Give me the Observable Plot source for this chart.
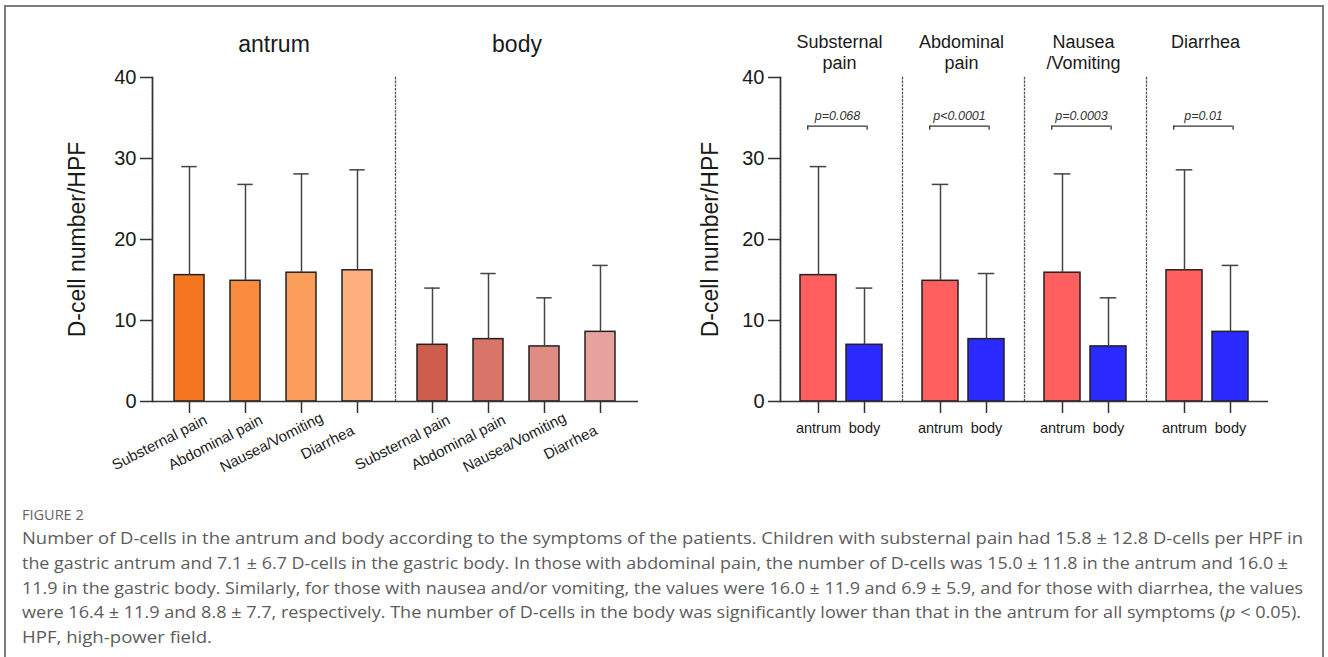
<!DOCTYPE html>
<html><head><meta charset="utf-8">
<script src="https://cdn.jsdelivr.net/npm/d3@7"></script>
<script src="https://cdn.jsdelivr.net/npm/@observablehq/plot@0.6"></script>
<style>
html,body{margin:0;padding:0;background:#fff;}
#wrap{position:relative;width:1328px;height:657px;overflow:hidden;background:#fff;}
#border{position:absolute;left:4px;top:5px;width:1320px;height:700px;border:2px solid #7d7d7d;box-sizing:border-box;}
#left{position:absolute;left:0;top:0;}
#right{position:absolute;left:660px;top:0;}
#caption{position:absolute;left:22px;top:503px;font-family:"Open Sans",sans-serif;color:#5c5c5c;}
#caption .fig{font-size:14.5px;line-height:23px;height:23px;color:#666;white-space:nowrap;}
#caption .ln{font-size:16px;line-height:24.8px;height:24.8px;white-space:nowrap;}
#caption .ln span, #caption .fig span{display:inline-block;transform-origin:0 50%;}
</style></head>
<body><div id="wrap"><div id="border"></div><div id="left"></div><div id="right"></div>
<div id="caption"></div></div>
<script>
// ---- data ----
const symptoms = ["Substernal pain", "Abdominal pain", "Nausea/Vomiting", "Diarrhea"];
const headerLabels = ["Substernal\npain", "Abdominal\npain", "Nausea\n/Vomiting", "Diarrhea"];
const sites = ["antrum", "body"];
const antrumMean = [15.6, 14.9, 15.9, 16.2];
const antrumSD   = [13.4, 11.9, 12.2, 12.4];
const bodyMean   = [7.0, 7.7, 6.8, 8.6];
const bodySD     = [7.0, 8.1, 6.0, 8.2];
const pValues = ["p=0.068", "p<0.0001", "p=0.0003", "p=0.01"];
const bracketLevel = 34;
const yTicks = [0, 10, 20, 30, 40];
const leftColors = ["#F57621", "#F98C3F", "#FB9E5C", "#FDAF7E", "#CD5E4E", "#D87568", "#E08C82", "#E6A39D"];
const rightColors = ["#FF5F5F", "#2A2AFF"];

const data = [];
sites.forEach(site => symptoms.forEach((symptom, j) => data.push({
  site, symptom,
  mean: site === "antrum" ? antrumMean[j] : bodyMean[j],
  sd: site === "antrum" ? antrumSD[j] : bodySD[j]
})));
const pData = symptoms.map((symptom, i) => ({symptom, p: pValues[i]}));
const leftKeys = data.map(d => d.site + "|" + d.symptom);

const font = "'Liberation Sans', Arial, sans-serif";
const axisColor = "#333";

const left = Plot.plot({
  width: 680, height: 480, marginLeft: 151, marginRight: 42, marginTop: 77, marginBottom: 79,
  style: {fontFamily: font, color: "#1a1a1a", background: "transparent", overflow: "visible"},
  fx: {domain: sites, padding: 0, axis: null},
  x: {domain: symptoms, paddingInner: 0.46, paddingOuter: 0.38, axis: null},
  y: {domain: [0, 40], axis: null},
  color: {domain: leftKeys, range: leftColors},
  marks: [
    Plot.frame({anchor: "left", stroke: "#555", strokeDasharray: "1.3,2.4", strokeWidth: 1.3}),
    Plot.barY(data, {fx: "site", x: "symptom", y: "mean", fill: d => d.site + "|" + d.symptom, stroke: "#222", strokeWidth: 1.5}),
    Plot.ruleX(data, {fx: "site", x: "symptom", y1: "mean", y2: d => d.mean + d.sd, stroke: "#444", strokeWidth: 1.5}),
    Plot.tickY(data, {fx: "site", x: "symptom", y: d => d.mean + d.sd, stroke: "#444", strokeWidth: 1.5, insetLeft: 7.3, insetRight: 7.3}),
    Plot.ruleY([0], {stroke: axisColor, strokeWidth: 1.6}),
    Plot.frame({anchor: "left", facetAnchor: "left", stroke: axisColor, strokeWidth: 1.6}),
    Plot.axisY({ticks: yTicks, tickSize: 12, tickPadding: 4, fontSize: 20, label: null, stroke: axisColor, strokeWidth: 1.5}),
    Plot.axisY({ticks: [], tickSize: 0, label: "D-cell number/HPF", labelAnchor: "center", labelOffset: 84, labelArrow: "none", fontSize: 23}),
    Plot.axisX({label: null, tickSize: 12, tickFormat: () => "", stroke: axisColor, strokeWidth: 1.5}),
    Plot.axisX({label: null, tickSize: 0, tickRotate: -27, textAnchor: "middle", lineAnchor: "middle", tickPadding: 41, dx: -30, fontSize: 15}),
    Plot.text(sites, {fx: d => d, text: d => d, frameAnchor: "top", dy: -42, fontSize: 23})
  ]
});
document.getElementById("left").append(left);

const right = Plot.plot({
  width: 640, height: 480, marginLeft: 120, marginRight: 32, marginTop: 77, marginBottom: 79,
  style: {fontFamily: font, color: "#1a1a1a", background: "transparent", overflow: "visible"},
  fx: {domain: symptoms, padding: 0, axis: null},
  x: {domain: sites, paddingInner: 0.21, paddingOuter: 0.427, axis: null},
  y: {domain: [0, 40], axis: null},
  color: {domain: sites, range: rightColors},
  marks: [
    Plot.frame({anchor: "left", stroke: "#555", strokeDasharray: "1.3,2.4", strokeWidth: 1.3}),
    Plot.barY(data, {fx: "symptom", x: "site", y: "mean", fill: "site", stroke: "#222", strokeWidth: 1.5}),
    Plot.ruleX(data, {fx: "symptom", x: "site", y1: "mean", y2: d => d.mean + d.sd, stroke: "#444", strokeWidth: 1.5}),
    Plot.tickY(data, {fx: "symptom", x: "site", y: d => d.mean + d.sd, stroke: "#444", strokeWidth: 1.5, insetLeft: 9.7, insetRight: 9.7}),
    Plot.ruleY([0], {stroke: axisColor, strokeWidth: 1.6}),
    Plot.frame({anchor: "left", facetAnchor: "left", stroke: axisColor, strokeWidth: 1.6}),
    Plot.axisY({ticks: yTicks, tickSize: 12, tickPadding: 4, fontSize: 20, label: null, stroke: axisColor, strokeWidth: 1.5}),
    Plot.axisY({ticks: [], tickSize: 0, label: "D-cell number/HPF", labelAnchor: "center", labelOffset: 79, labelArrow: "none", fontSize: 23}),
    Plot.axisX({label: null, tickSize: 12, tickPadding: 9, fontSize: 14.5, stroke: axisColor, strokeWidth: 1.5}),
    Plot.text(symptoms, {fx: d => d, text: (d, i) => headerLabels[i], frameAnchor: "top", lineAnchor: "top", dy: -45, dx: -2, fontSize: 18, lineHeight: 1.2}),
    Plot.ruleY(pData, {fx: "symptom", x1: () => "antrum", x2: () => "body", y: () => bracketLevel, insetLeft: 7.5, insetRight: 15.6, stroke: "#333", strokeWidth: 1.3}),
    Plot.ruleX(pData, {fx: "symptom", x: () => "antrum", y1: () => bracketLevel, y2: () => bracketLevel - 0.5, dx: -10.75, stroke: "#333", strokeWidth: 1.3}),
    Plot.ruleX(pData, {fx: "symptom", x: () => "body", y1: () => bracketLevel, y2: () => bracketLevel - 0.5, dx: 2.6, stroke: "#333", strokeWidth: 1.3}),
    Plot.text(pData, {fx: "symptom", text: "p", y: () => bracketLevel, dy: -10, dx: -4, fontSize: 12.5, fontStyle: "italic", fill: "#333"})
  ]
});
document.getElementById("right").append(right);

// ---- caption ----
const captionTitle = "FIGURE 2";
const captionLines = [
  "Number of D-cells in the antrum and body according to the symptoms of the patients. Children with substernal pain had 15.8 ± 12.8 D-cells per HPF in",
  "the gastric antrum and 7.1 ± 6.7 D-cells in the gastric body. In those with abdominal pain, the number of D-cells was 15.0 ± 11.8 in the antrum and 16.0 ±",
  "11.9 in the gastric body. Similarly, for those with nausea and/or vomiting, the values were 16.0 ± 11.9 and 6.9 ± 5.9, and for those with diarrhea, the values",
  "were 16.4 ± 11.9 and 8.8 ± 7.7, respectively. The number of D-cells in the body was significantly lower than that in the antrum for all symptoms (<i>p</i> < 0.05).",
  "HPF, high-power field."
];
const lineRight = [1303, 1288, 1303, 1301, 212];
const capLeft = 22;
const cap = document.getElementById("caption");
const fig = document.createElement("div"); fig.className = "fig";
fig.innerHTML = "<span>" + captionTitle + "</span>"; cap.append(fig);
captionLines.forEach((t, i) => {
  const d = document.createElement("div"); d.className = "ln";
  d.innerHTML = "<span>" + t.replace(/ < /g, " &lt; ") + "</span>";
  cap.append(d);
  const s = d.firstChild;
  const w = s.getBoundingClientRect().width;
  s.style.transform = `scaleX(${(lineRight[i] - capLeft) / w})`;
});
</script></body></html>
